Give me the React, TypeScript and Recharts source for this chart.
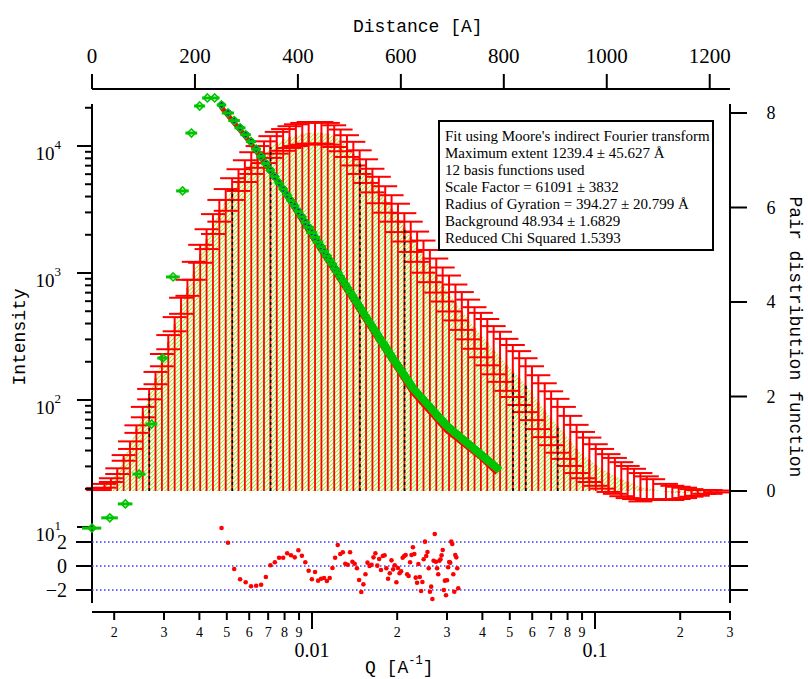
import React from 'react';
import { ComposedChart, XAxis, YAxis, Bar, Area, Scatter, ErrorBar, ReferenceLine } from 'recharts';

const W = 808;
const H = 679;

// ---------- pair distribution function P(r) ----------
const rValues = [
  0, 12.4, 24.8, 37.2, 49.6, 62.0, 74.4, 86.8, 99.2, 111.5,
  123.9, 136.3, 148.7, 161.1, 173.5, 185.9, 198.3, 210.7, 223.1, 235.5,
  247.9, 260.3, 272.7, 285.1, 297.5, 309.9, 322.2, 334.6, 347.0, 359.4,
  371.8, 384.2, 396.6, 409.0, 421.4, 433.8, 446.2, 458.6, 471.0, 483.4,
  495.8, 508.2, 520.5, 532.9, 545.3, 557.7, 570.1, 582.5, 594.9, 607.3,
  619.7, 632.1, 644.5, 656.9, 669.3, 681.7, 694.1, 706.5, 718.9, 731.2,
  743.6, 756.0, 768.4, 780.8, 793.2, 805.6, 818.0, 830.4, 842.8, 855.2,
  867.6, 880.0, 892.4, 904.8, 917.2, 929.6, 941.9, 954.3, 966.7, 979.1,
  991.5, 1003.9, 1016.3, 1028.7, 1041.1, 1053.5, 1065.9, 1078.3, 1090.7, 1103.1,
  1115.5, 1127.9, 1140.2, 1152.6, 1165.0, 1177.4, 1189.8, 1202.2, 1214.6, 1227.0,
  1239.4,
];
const prValues = [
  0, 0.04, 0.11, 0.23, 0.42, 0.70, 0.97, 1.31, 1.67, 2.05,
  2.39, 2.77, 3.15, 3.53, 3.92, 4.30, 4.66, 5.02, 5.33, 5.65,
  5.93, 6.16, 6.39, 6.58, 6.77, 6.94, 7.07, 7.17, 7.28, 7.37,
  7.43, 7.49, 7.53, 7.56, 7.58, 7.58, 7.58, 7.56, 7.51, 7.42,
  7.30, 7.14, 6.96, 6.77, 6.57, 6.37, 6.17, 5.98, 5.78, 5.58,
  5.38, 5.17, 4.96, 4.76, 4.56, 4.37, 4.18, 3.99, 3.81, 3.63,
  3.45, 3.30, 3.15, 2.98, 2.84, 2.67, 2.54, 2.39, 2.24, 2.07,
  1.88, 1.71, 1.54, 1.38, 1.23, 1.06, 0.89, 0.76, 0.66, 0.55,
  0.47, 0.38, 0.32, 0.25, 0.19, 0.15, 0.08, 0.06, 0.04, 0.00,
  -0.02, -0.04, -0.04, -0.04, -0.04, -0.04, -0.02, -0.02, -0.01, 0.00,
  0.00,
];
const prErrors = [
  0, 0.02, 0.04, 0.04, 0.06, 0.06, 0.08, 0.08, 0.11, 0.11,
  0.13, 0.13, 0.15, 0.15, 0.17, 0.17, 0.19, 0.19, 0.21, 0.21,
  0.23, 0.23, 0.23, 0.23, 0.23, 0.23, 0.23, 0.23, 0.23, 0.23,
  0.23, 0.23, 0.23, 0.23, 0.23, 0.23, 0.23, 0.23, 0.23, 0.23,
  0.23, 0.25, 0.25, 0.25, 0.25, 0.28, 0.28, 0.28, 0.30, 0.30,
  0.32, 0.32, 0.34, 0.34, 0.36, 0.36, 0.38, 0.38, 0.40, 0.42,
  0.44, 0.47, 0.49, 0.51, 0.53, 0.55, 0.55, 0.57, 0.57, 0.57,
  0.57, 0.57, 0.57, 0.57, 0.55, 0.53, 0.51, 0.49, 0.47, 0.44,
  0.42, 0.40, 0.38, 0.36, 0.34, 0.32, 0.30, 0.25, 0.21, 0.19,
  0.17, 0.15, 0.13, 0.11, 0.08, 0.06, 0.04, 0.04, 0.02, 0.02,
  0,
];
// points where the bars show a black dashed line
const dashedAt = [9, 22, 28, 42, 49, 66, 68, 73];

// ---------- scattering data I(q) ----------
const qValues = [
  0.00167, 0.00193, 0.00219, 0.00245, 0.00271, 0.00297, 0.00323, 0.00349, 0.00375, 0.00401,
  0.00427, 0.00453, 0.00479, 0.00505, 0.00531, 0.00557, 0.00583, 0.00609, 0.00635, 0.00661,
  0.00687, 0.00713, 0.00739, 0.00765, 0.00791, 0.00817, 0.00843, 0.00869, 0.00895, 0.00921,
  0.00947, 0.00973, 0.00999, 0.01025, 0.01051, 0.01077, 0.01103, 0.01129, 0.01155, 0.01181,
  0.01207, 0.01233, 0.01259, 0.01285, 0.01311, 0.01337, 0.01363, 0.01389, 0.01415, 0.01441,
  0.01467, 0.01493, 0.01519, 0.01545, 0.01571, 0.01597, 0.01623, 0.01649, 0.01675, 0.01701,
  0.01727, 0.01753, 0.01779, 0.01805, 0.01831, 0.01857, 0.01883, 0.01909, 0.01935, 0.01961,
  0.01987, 0.02013, 0.02039, 0.02065, 0.02091, 0.02117, 0.02143, 0.02169, 0.02195, 0.02221,
  0.02247, 0.02273, 0.02299, 0.02325, 0.02351, 0.02377, 0.02403, 0.02429, 0.02455, 0.02481,
  0.02507, 0.02533, 0.02559, 0.02585, 0.02611, 0.02637, 0.02663, 0.02689, 0.02715, 0.02741,
  0.02767, 0.02793, 0.02819, 0.02845, 0.02871, 0.02897, 0.02923, 0.02949, 0.02975, 0.03001,
  0.03027, 0.03053, 0.03079, 0.03105, 0.03131, 0.03157, 0.03183, 0.03209, 0.03235, 0.03261,
  0.03287, 0.03313, 0.03339, 0.03365, 0.03391, 0.03417, 0.03443, 0.03469, 0.03495, 0.03521,
  0.03547, 0.03573, 0.03599, 0.03625, 0.03651, 0.03677, 0.03703, 0.03729, 0.03755, 0.03781,
  0.03807, 0.03833, 0.03859, 0.03885, 0.03911, 0.03937, 0.03963, 0.03989, 0.04015, 0.04041,
  0.04067, 0.04093, 0.04119, 0.04145, 0.04171, 0.04197, 0.04223, 0.04249, 0.04275, 0.04301,
  0.04327, 0.04353, 0.04379, 0.04405, 0.04431, 0.04457, 0.04483, 0.04509,
];
const intensity = [
  9.8, 11.8, 15.2, 26.1, 64.7, 214, 931, 4430, 12650, 20650,
  23880, 23900, 21040, 18200, 15850, 13900, 12270, 10840, 9440, 8280,
  7280, 6440, 5730, 5120, 4580, 4120, 3720, 3370, 3050, 2770,
  2510, 2290, 2080, 1910, 1750, 1610, 1480, 1360, 1260, 1170,
  1080, 1005, 935, 871, 813, 759, 710, 665, 624, 585,
  550, 518, 488, 459, 434, 409, 387, 366, 348, 329,
  312, 296, 282, 268, 255, 243, 231, 221, 211, 202,
  194, 186, 178, 171, 164, 157, 151, 145, 140, 134,
  129, 124, 121, 117, 114, 111, 108, 105, 103, 100,
  97.5, 94.8, 92.7, 90.4, 88.1, 85.9, 83.8, 81.8, 80.0, 78.0,
  76.2, 74.5, 72.8, 71.1, 69.5, 68.1, 66.5, 65.0, 63.7, 62.2,
  61.4, 60.4, 59.4, 58.5, 57.5, 56.6, 55.8, 55.0, 54.1, 53.3,
  52.6, 51.8, 51.1, 50.4, 49.5, 48.9, 48.2, 47.5, 46.9, 46.2,
  45.6, 45.0, 44.4, 43.8, 43.2, 42.7, 42.1, 41.5, 40.9, 40.5,
  39.9, 39.4, 38.9, 38.5, 37.9, 37.5, 37.1, 36.6, 36.1, 35.7,
  35.3, 34.9, 34.4, 34.0, 33.7, 33.3, 32.9, 32.5, 32.1, 31.8,
  31.4, 31.0, 30.8, 30.4, 30.1, 29.7, 29.4, 29.1,
];
// half width of the q resolution bars: [first point index, value]
const qResolution = [[0, 0.00013], [6, 0.00018], [13, 0.00025], [31, 0.00045], [61, 0.0007], [101, 0.0011]];

// fit range starts at this data point, one residual per point
const fitStart = 12;
const residuals = [
  3.17, 1.94, -0.25, -1.11, -1.36, -1.69, -1.64, -1.56, -0.92, 0.06,
  0.31, 0.69, 0.69, 1.06, 0.89, 0.72, 1.31, 0.86, 0.31, -0.39,
  -1.11, -0.50, -1.22, -1.06, -1.00, -1.25, -1.00, -0.17, 0.69, 1.75,
  1.00, 1.14, 0.19, 0.11, 1.14, 0.36, 0.19, -0.19, -1.17, -2.17,
  -1.53, -0.69, 0.28, 0.00, 0.11, 0.72, 1.06, 0.03, 0.58, -0.33,
  0.83, 0.89, -0.19, -1.06, -0.61, 0.47, -0.28, 0.06, -1.36, -0.17,
  -0.61, -0.44, 0.69, 0.83, 0.92, -0.69, -0.83, 0.31, 0.92, 1.56,
  1.00, -0.97, -1.39, 0.17, -0.92, -2.08, -1.33, 0.56, 2.03, 0.83,
  1.17, -0.19, -2.14, -1.72, -2.75, 0.44, 2.67, 0.36, -0.19, -0.69,
  0.44, 0.56, 0.89, 1.33, -2.00, -1.22, -2.44, -1.19, -0.11, 0.33,
  0.28, 2.03, 1.83, -0.69, -2.14, 0.92, 0.72, -0.19, -1.86,
];

// model curve (red, just under the data)
const fitQ = [0.004773, 0.006037, 0.007705, 0.010081, 0.012561, 0.01603, 0.022747, 0.029993, 0.039244, 0.045055];
const fitI = [20280, 10740, 4930, 1888, 881, 376, 113.6, 57.0, 35.6, 26.6];

// ---------- ticks ----------
const distTicks = [0, 200, 400, 600, 800, 1000, 1200];
const prTicks = [0, 2, 4, 6, 8];
const resTicks = [-2, 0, 2];
const intensityTicks = [
  10, 20, 30, 40, 50, 60, 70, 80, 90,
  100, 200, 300, 400, 500, 600, 700, 800, 900,
  1000, 2000, 3000, 4000, 5000, 6000, 7000, 8000, 9000,
  10000, 20000,
];
const qTicks = [
  0.002, 0.003, 0.004, 0.005, 0.006, 0.007, 0.008, 0.009, 0.01,
  0.02, 0.03, 0.04, 0.05, 0.06, 0.07, 0.08, 0.09, 0.1,
  0.2, 0.3,
];

const legendLines = [
  "Fit using Moore's indirect Fourier transform",
  'Maximum extent 1239.4 ± 45.627 Å',
  '12 basis functions used',
  'Scale Factor = 61091 ± 3832',
  'Radius of Gyration = 394.27 ± 20.799 Å',
  'Background 48.934 ± 1.6829',
  'Reduced Chi Squared 1.5393',
];

// ---------- rows ----------
const prRows = rValues.map((r, i) => ({ r, p: prValues[i], e: prErrors[i] }));
const dqFor = (j: number) => {
  let v = qResolution[0][1];
  for (const [start, w] of qResolution) if (j >= start) v = w;
  return v;
};
const n = Math.min(qValues.length, intensity.length);
const dataRows = qValues.slice(0, n).map((q, j) => ({ q, I: intensity[j], dq: dqFor(j) }));
const fitRows = fitQ.map((q, k) => ({ q, I: fitI[k] }));
const blueRows = dataRows.slice(fitStart, fitStart + residuals.length);
const resRows = residuals.map((res, k) => ({ q: qValues[fitStart + k], res }));

// ---------- layout: where the axes put their values ----------
const Q_X = 312;    // x of q = 0.01
const Q_DEC = 283;  // px per decade of q
const I_Y = 527;    // y of I = 10
const I_DEC = 127;  // px per decade of I
const P_Y = 491;    // y of P = 0
const P_UNIT = 47.25;
const RES_Y = 566;
const RES_UNIT = 12;
const R_LEFT = 92;
const R_RIGHT = 730;
const R_MAX = 1239.4;

const qDomain = (l: number, r: number) => [0.01 * 10 ** ((l - Q_X) / Q_DEC), 0.01 * 10 ** ((r - Q_X) / Q_DEC)];
const iDomain = (t: number, b: number) => [10 ** (1 + (I_Y - b) / I_DEC), 10 ** (1 + (I_Y - t) / I_DEC)];
const pDomain = (t: number, b: number) => [(P_Y - b) / P_UNIT, (P_Y - t) / P_UNIT];
const resDomain = (t: number, b: number) => [(RES_Y - b) / RES_UNIT, (RES_Y - t) / RES_UNIT];

const serif = '"Liberation Serif", "Times New Roman", serif';
const mono = '"Liberation Mono", "DejaVu Sans Mono", monospace';
const RED = '#ff0000';
const GREEN = '#00c400';
const axisStyle = { stroke: '#000', strokeWidth: 2 };

// ---------- ticks ----------
function IntensityTick({ x = 0, y = 0, payload }: any) {
  const e = Math.log10(payload.value);
  const major = Math.abs(e - Math.round(e)) < 1e-6;
  return (
    <g>
      <line x1={x - (major ? 15 : 7)} x2={x} y1={y} y2={y} stroke="#000" strokeWidth={2} />
      {major && (
        <text x={x - 31} y={y + 14} textAnchor="end" fontFamily={serif} fontSize={19} fill="#000">
          10<tspan fontSize={13} dy={-11}>{Math.round(e)}</tspan>
        </text>
      )}
    </g>
  );
}

function PrTick({ x = 0, y = 0, payload }: any) {
  return (
    <g>
      <line x1={x} x2={x + 17} y1={y} y2={y} stroke="#000" strokeWidth={2} />
      <text x={x + 41} y={y + 6} textAnchor="middle" fontFamily={serif} fontSize={18} fill="#000">
        {payload.value}
      </text>
    </g>
  );
}

function DistTick({ x = 0, y = 0, payload }: any) {
  return (
    <g>
      <line x1={x} x2={x} y1={y - 15} y2={y} stroke="#000" strokeWidth={2} />
      <text x={x} y={y - 26} textAnchor="middle" fontFamily={serif} fontSize={21} fill="#000">
        {payload.value}
      </text>
    </g>
  );
}

function QTick({ x = 0, y = 0, payload }: any) {
  const v = payload.value;
  const e = Math.log10(v);
  const major = Math.abs(e - Math.round(e)) < 1e-6;
  if (major) {
    return (
      <g>
        <line x1={x} x2={x} y1={y} y2={y + 17} stroke="#000" strokeWidth={2} />
        <text x={x} y={y + 45} textAnchor="middle" fontFamily={serif} fontSize={20} fill="#000">
          {String(v)}
        </text>
      </g>
    );
  }
  const digit = Math.round(v / 10 ** Math.floor(e));
  return (
    <g>
      <line x1={x} x2={x} y1={y} y2={y + 8} stroke="#000" strokeWidth={2} />
      <text x={x} y={y + 25} textAnchor="middle" fontFamily={serif} fontSize={14} fill="#000">
        {digit}
      </text>
    </g>
  );
}

function ResTickLeft({ x = 0, y = 0, payload }: any) {
  const v = payload.value;
  return (
    <g>
      <line x1={x - 16} x2={x} y1={y} y2={y} stroke="#000" strokeWidth={2} />
      <text x={x - 25} y={y + 7} textAnchor="end" fontFamily={serif} fontSize={20} fill="#000">
        {v < 0 ? `\u2212${-v}` : `${v}`}
      </text>
    </g>
  );
}

function ResTickRight({ x = 0, y = 0 }: any) {
  return <line x1={x} x2={x + 17} y1={y} y2={y} stroke="#000" strokeWidth={2} />;
}

// ---------- markers ----------
const Diamond = ({ cx, cy }: any) => (
  <path
    d={`M${cx},${cy - 4} L${cx + 4},${cy} L${cx},${cy + 4} L${cx - 4},${cy} Z`}
    fill="none"
    stroke={GREEN}
    strokeWidth={1.6}
  />
);
const BlueDot = ({ cx, cy }: any) => <circle cx={cx} cy={cy} r={3.4} fill="#0000cc" />;
const RedDot = ({ cx, cy }: any) => <circle cx={cx} cy={cy} r={2.3} fill={RED} />;
const NoMark = () => <g />;

const layer: React.CSSProperties = { position: 'absolute', left: 0, top: 0 };

// P(r) bars, left intensity axis, right P(r) axis
function PrChart() {
  const t = 104, b = 603;
  return (
    <ComposedChart width={W} height={H} data={prRows} margin={{ left: R_LEFT - 60, right: W - R_RIGHT - 60, top: t, bottom: H - b }}>
      <defs>
        <pattern id="hatch" width="4" height="4" patternUnits="userSpaceOnUse">
          <rect width="4" height="4" fill="#ffffff" />
          <path d="M0,4 L4,0 M-1,1 L1,-1 M3,5 L5,3" stroke="#a4e63a" strokeWidth="1.1" />
        </pattern>
      </defs>
      <XAxis xAxisId="r" dataKey="r" type="number" domain={[0, R_MAX]} hide />
      <YAxis
        yAxisId="p" orientation="right" width={60} type="number" domain={pDomain(t, b)}
        ticks={prTicks} interval={0} tickSize={0} tickMargin={0} tickLine={false} axisLine={axisStyle} tick={PrTick}
      />
      <YAxis
        yAxisId="I" orientation="left" width={60} type="number" scale="log" domain={iDomain(t, b)} allowDataOverflow
        ticks={intensityTicks} interval={0} tickSize={0} tickMargin={0} tickLine={false} axisLine={axisStyle} tick={IntensityTick}
      />
      <Area xAxisId="r" yAxisId="p" dataKey="p" type="linear" stroke="none" fill="url(#hatch)" fillOpacity={1} baseValue={0} isAnimationActive={false} />
      <Bar xAxisId="r" yAxisId="p" dataKey="p" barSize={1.8} fill={RED} isAnimationActive={false}>
        <ErrorBar dataKey="e" width={12} stroke={RED} strokeWidth={2} />
      </Bar>
      {dashedAt.map((i) => (
        <ReferenceLine
          key={i} xAxisId="r" yAxisId="p"
          segment={[{ x: rValues[i], y: 0 }, { x: rValues[i], y: prValues[i] }]}
          stroke="#000" strokeWidth={1.5} strokeDasharray="3 3"
        />
      ))}
    </ComposedChart>
  );
}

// distance axis on top
function TopAxisChart() {
  const t = 89;
  return (
    <ComposedChart width={W} height={H} data={prRows} margin={{ left: R_LEFT, right: W - R_RIGHT, top: t - 40, bottom: H - 603 }}>
      <XAxis
        xAxisId="r" dataKey="r" orientation="top" height={40} type="number" domain={[0, R_MAX]} allowDataOverflow
        ticks={distTicks} interval={0} tickSize={0} tickMargin={0} tickLine={false} axisLine={axisStyle} tick={DistTick}
      />
      <YAxis yAxisId="p" type="number" domain={[0, 10]} hide />
      <Scatter xAxisId="r" yAxisId="p" data={[]} shape={NoMark} isAnimationActive={false} />
    </ComposedChart>
  );
}

// residuals and the q axis at the bottom
function ResidualChart() {
  const l = R_LEFT, r = 731, t = 104, b = 612;
  return (
    <ComposedChart width={W} height={H} margin={{ left: l - 60, right: W - r - 60, top: t, bottom: H - b - 50 }}>
      <XAxis
        dataKey="q" type="number" scale="log" domain={qDomain(l, r)} allowDataOverflow height={50}
        ticks={qTicks} interval={0} tickSize={0} tickMargin={0} tickLine={false} axisLine={axisStyle} tick={QTick}
      />
      <YAxis
        yAxisId="L" dataKey="res" orientation="left" width={60} type="number" domain={resDomain(t, b)} allowDataOverflow
        ticks={resTicks} interval={0} tickSize={0} tickMargin={0} tickLine={false} axisLine={false} tick={ResTickLeft}
      />
      <YAxis
        yAxisId="R" orientation="right" width={60} type="number" domain={resDomain(t, b)} allowDataOverflow
        ticks={resTicks} interval={0} tickSize={0} tickMargin={0} tickLine={false} axisLine={false} tick={ResTickRight}
      />
      {resTicks.map((v) => (
        <ReferenceLine key={v} yAxisId="L" y={v} stroke="#3a3aff" strokeWidth={1.5} strokeDasharray="1.5 2.5" />
      ))}
      <Scatter yAxisId="L" data={resRows} shape={RedDot} isAnimationActive={false} />
    </ComposedChart>
  );
}

// I(q) in three stacked layers: fit + blue markers, q-resolution bars, green markers
function IntensityChart({ part }: { part: 'under' | 'bars' | 'marks' }) {
  const l = 40, r = 780, t = 60, b = 650;
  return (
    <ComposedChart width={W} height={H} margin={{ left: l, right: W - r, top: t, bottom: H - b }}>
      <XAxis dataKey="q" type="number" scale="log" domain={qDomain(l, r)} allowDataOverflow hide />
      <YAxis dataKey="I" type="number" scale="log" domain={iDomain(t, b)} allowDataOverflow hide />
      {part === 'under' && (
        <Scatter data={fitRows} line={{ stroke: RED, strokeWidth: 5 }} shape={NoMark} isAnimationActive={false} />
      )}
      {part === 'under' && <Scatter data={blueRows} shape={BlueDot} isAnimationActive={false} />}
      {part === 'bars' && <Scatter data={[]} shape={NoMark} isAnimationActive={false} />}
      {part === 'bars' &&
        dataRows.map((d, j) => (
          <ReferenceLine
            key={j}
            segment={[{ x: d.q - d.dq, y: d.I }, { x: d.q + d.dq, y: d.I }]}
            stroke={GREEN} strokeWidth={3} ifOverflow="visible"
          />
        ))}
      {part === 'marks' && <Scatter data={dataRows} shape={Diamond} isAnimationActive={false} />}
    </ComposedChart>
  );
}

export default function App() {
  return (
    <div style={{ position: 'absolute', left: 0, top: 0, width: W, height: H, background: '#fff', overflow: 'hidden' }}>
      <div style={layer}><PrChart /></div>
      <div style={layer}><TopAxisChart /></div>
      <div style={layer}><ResidualChart /></div>
      <div style={layer}><IntensityChart part="under" /></div>
      <div style={layer}><IntensityChart part="bars" /></div>
      <div style={layer}><IntensityChart part="marks" /></div>
      <svg style={layer} width={W} height={H}>
        <text x={353} y={32} fontFamily={mono} fontSize={18} fill="#000">Distance [A]</text>
        <text x={20} y={337} transform="rotate(-90 20 337)" textAnchor="middle" dominantBaseline="central" fontFamily={mono} fontSize={18} fill="#000">
          Intensity
        </text>
        <text x={795} y={337} transform="rotate(90 795 337)" textAnchor="middle" dominantBaseline="central" fontFamily={mono} fontSize={18} fill="#000">
          Pair distribution function
        </text>
        <text x={365} y={673} fontFamily={mono} fontSize={18} fill="#000">
          Q [A<tspan fontSize={12} dy={-9}>-1</tspan><tspan dy={9}>]</tspan>
        </text>
        <rect x={439} y={121} width={274} height={129} fill="#fff" stroke="#000" strokeWidth={2} />
        {legendLines.map((s, k) => (
          <text key={k} x={445} y={141 + 17 * k} fontFamily={serif} fontSize={15} fill="#000">{s}</text>
        ))}
      </svg>
    </div>
  );
}
